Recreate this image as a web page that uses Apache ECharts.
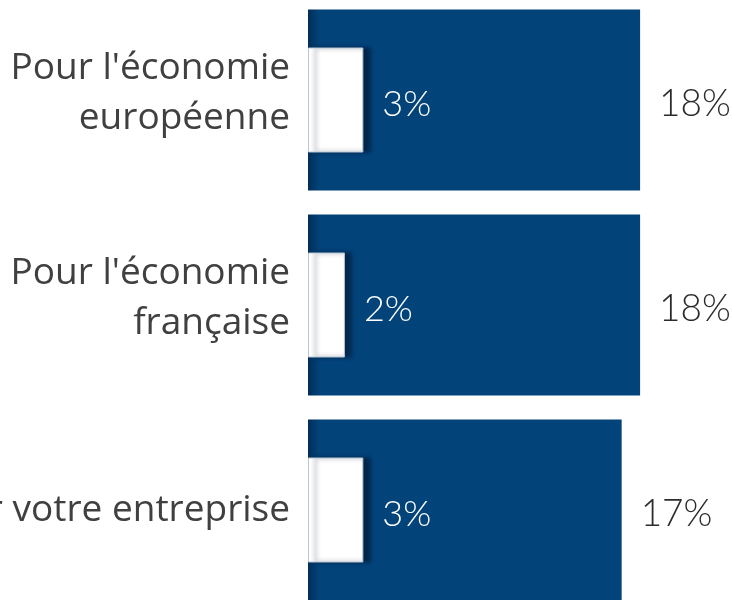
<!DOCTYPE html>
<html><head><meta charset="utf-8">
<script src="https://cdn.jsdelivr.net/npm/echarts@6/dist/echarts.min.js"></script>
<style>html,body{margin:0;padding:0;background:#fff}#c{width:732px;height:600px}</style>
</head><body><div id="c"></div>
<script>
const categories = ["Pour l'économie\neuropéenne", "Pour l'économie\nfrançaise", "Pour votre entreprise"];
const totalValues = [18, 18, 17];
const innerValues = [3, 2, 3];

const chart = echarts.init(document.getElementById('c'));
const catAxis = (show) => ({
  type: 'category', data: categories, inverse: true, show: show,
  axisLine: { show: false }, axisTick: { show: false },
  axisLabel: {
    margin: 18, fontSize: 37, lineHeight: 50, color: '#404040', fontFamily: 'Open Sans', align: 'right',
    formatter: (v) => v.indexOf('\n') >= 0
      ? v.split('\n').map(l => '{m|' + l + '}').join('\n') + '\n{s| }'
      : v,
    rich: {
      m: { fontSize: 37, lineHeight: 50, color: '#404040', fontFamily: 'Open Sans', align: 'right' },
      s: { fontSize: 1, lineHeight: 14, align: 'right' }
    }
  }
});
chart.setOption({
  animation: false,
  grid: { left: 308, right: 55, top: -2.5, bottom: -12.5, containLabel: false, outerBoundsMode: 'none' },
  xAxis: { type: 'value', min: 0, max: 20, show: false },
  yAxis: [catAxis(true), catAxis(false)],
  series: [
    {
      type: 'bar', data: totalValues, barWidth: 181, yAxisIndex: 0, z: 1,
      itemStyle: {
        color: { type: 'linear', x: 0, y: 0, x2: 1, y2: 0, colorStops: [
          { offset: 0, color: '#012e58' }, { offset: 0.035, color: '#02437a' }, { offset: 1, color: '#02437a' } ] }
      },
      label: { show: true, position: 'right', distance: 19, offset: [0, 4], formatter: '{c}%', fontSize: 37, color: '#2b2b2b', fontFamily: 'Lato', fontWeight: 300 }
    },
    {
      type: 'bar', data: innerValues, barWidth: 105, yAxisIndex: 1, z: 2,
      itemStyle: { color: '#ffffff', borderColor: '#b8c6d4', borderWidth: 1, shadowColor: 'rgba(0,20,45,0.6)', shadowBlur: 4, shadowOffsetX: 7, shadowOffsetY: 0 },
      label: { show: true, position: 'right', distance: 19, offset: [0, 4], formatter: '{c}%', fontSize: 36, color: '#ffffff', fontFamily: 'Lato', fontWeight: 300 }
    }
  ]
});
</script></body></html>
